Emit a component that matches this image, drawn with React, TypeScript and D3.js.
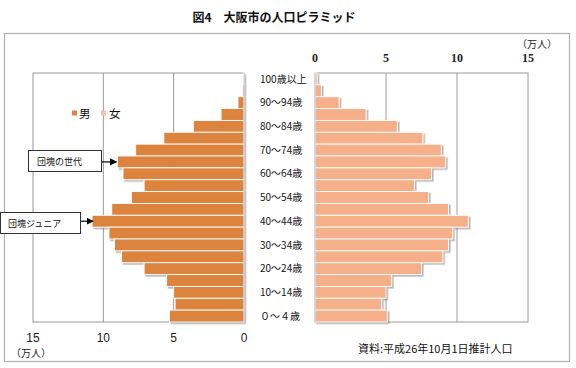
import React from "react";
import * as d3 from "d3";

const ageGroups = [
  "100+", "95-99", "90-94", "85-89", "80-84", "75-79", "70-74", "65-69", "60-64",
  "55-59", "50-54", "45-49", "40-44", "35-39", "30-34", "25-29", "20-24",
  "15-19", "10-14", "5-9", "0-4",
];
const ageLabels = [
  "100歳以上", "", "90～94歳", "", "80～84歳", "", "70～74歳", "", "60～64歳", "",
  "50～54歳", "", "40～44歳", "", "30～34歳", "", "20～24歳", "", "10～14歳", "", "０～４歳",
];
const maleValues = [
  0.05, 0.1, 0.43, 1.63, 3.6, 5.7, 7.7, 9.0, 8.6, 7.1, 8.0, 9.4, 10.8, 9.6, 9.2, 8.7, 7.1,
  5.5, 5.0, 4.9, 5.3,
];
const femaleValues = [
  0.15, 0.45, 1.7, 3.6, 5.8, 7.6, 8.9, 9.2, 8.2, 7.0, 8.0, 9.4, 10.8, 9.7, 9.4, 9.0, 7.5,
  5.4, 5.0, 4.7, 5.1,
];
const ticks = [0, 5, 10, 15];

const MALE = "#DC843D";
const FEMALE = "#F5B08A";
const GRID = "#9a9a9a";
const JP = "'Noto Sans CJK JP', 'Noto Sans', sans-serif";

export default function App() {
  const top = 73;
  const bottom = 322;
  const y = d3.scaleBand<string>().domain(ageGroups).range([top, bottom]).paddingInner(0);
  const xL = d3.scaleLinear().domain([0, 15]).range([244, 33]);
  const xR = d3.scaleLinear().domain([0, 15]).range([315, 528]);
  const bh = y.bandwidth();

  return (
    <svg width={576} height={368} style={{ position: "absolute", left: 0, top: 0, background: "#fff" }}>
      <defs>
        <filter id="sh" x="-10%" y="-30%" width="130%" height="180%">
          <feDropShadow dx="1.6" dy="1.6" stdDeviation="0.7" floodColor="#777" floodOpacity="0.55" />
        </filter>
        <marker id="arr" viewBox="0 0 10 10" refX="9" refY="5" markerWidth="6" markerHeight="6" orient="auto">
          <path d="M0,0 L10,5 L0,10 z" fill="#000" />
        </marker>
      </defs>

      {/* title */}
      <text x={274} y={22} textAnchor="middle" fontFamily={JP} fontWeight="bold" fontSize={12} fill="#111">
        図4　大阪市の人口ピラミッド
      </text>

      {/* outer frame */}
      <rect x={4.5} y={33.5} width={565} height={328} fill="none" stroke="#b0b0b0" strokeWidth={1.2} />

      {/* left panel */}
      <rect x={xL(15)} y={top} width={xL(0) - xL(15)} height={bottom - top} fill="#fff" stroke={GRID} strokeWidth={1} />
      {ticks.slice(1, 3).map((t) => (
        <line key={"gl" + t} x1={xL(t)} x2={xL(t)} y1={top} y2={bottom} stroke={GRID} strokeWidth={1} />
      ))}
      {/* right panel */}
      <rect x={xR(0)} y={top} width={xR(15) - xR(0)} height={bottom - top} fill="#fff" stroke={GRID} strokeWidth={1} />
      {ticks.slice(1, 3).map((t) => (
        <line key={"gr" + t} x1={xR(t)} x2={xR(t)} y1={top} y2={bottom} stroke={GRID} strokeWidth={1} />
      ))}

      {/* male bars */}
      <g filter="url(#sh)">
        {ageGroups.map((a, i) => (
          <rect key={"m" + a} x={xL(maleValues[i])} y={y(a)!} width={xL(0) - xL(maleValues[i])} height={bh}
            fill={MALE} stroke="#fff" strokeWidth={0.9} />
        ))}
      </g>
      {/* female bars */}
      <g filter="url(#sh)">
        {ageGroups.map((a, i) => (
          <rect key={"f" + a} x={xR(0)} y={y(a)!} width={xR(femaleValues[i]) - xR(0)} height={bh}
            fill={FEMALE} stroke="#fff" strokeWidth={0.9} />
        ))}
      </g>
      <line x1={xR(0)} x2={xR(0)} y1={top} y2={bottom} stroke="#c8c8d8" strokeWidth={1} />
      <line x1={xL(0)} x2={xL(0)} y1={top} y2={bottom} stroke="#c8c8d8" strokeWidth={1} />

      {/* age labels */}
      {ageGroups.map((a, i) =>
        ageLabels[i] ? (
          <text key={"l" + a} x={260} y={y(a)! + bh / 2 + 3.6} fontFamily={JP} fontSize={10} fill="#111">
            {ageLabels[i]}
          </text>
        ) : null
      )}

      {/* top axis labels (right) */}
      {ticks.map((t) => (
        <text key={"tt" + t} x={xR(t)} y={62} textAnchor="middle" fontFamily="'Liberation Serif', serif"
          fontWeight="bold" fontSize={12} fill="#222">
          {t}
        </text>
      ))}
      <text x={537} y={48} textAnchor="middle" fontFamily={JP} fontSize={10} fill="#222">（万人）</text>

      {/* bottom axis labels (left) */}
      {ticks.map((t) => (
        <text key={"bt" + t} x={xL(t)} y={342} textAnchor="middle" fontFamily="'Liberation Sans', Arial, sans-serif"
          fontSize={12} fill="#222">
          {t}
        </text>
      ))}
      <text x={31} y={357} textAnchor="middle" fontFamily={JP} fontSize={10} fill="#222">（万人）</text>

      {/* source */}
      <text x={358} y={353} fontFamily={JP} fontSize={11} fill="#111">資料:平成26年10月1日推計人口</text>

      {/* legend */}
      <rect x={72} y={110.5} width={5} height={5} fill={MALE} />
      <text x={79} y={117.5} fontFamily={JP} fontSize={11.5} fill="#111">男</text>
      <rect x={101} y={110.5} width={5} height={5} fill="#F4C2A6" />
      <text x={109} y={117.5} fontFamily={JP} fontSize={11.5} fill="#111">女</text>

      {/* annotations */}
      <rect x={28.5} y={150.5} width={73} height={21} fill="#fff" stroke="#333" strokeWidth={1} />
      <text x={37} y={164.5} fontFamily={JP} fontSize={9} fill="#111">団塊の世代</text>
      <line x1={102} x2={xL(maleValues[7]) - 1} y1={y("65-69")! + bh / 2} y2={y("65-69")! + bh / 2}
        stroke="#000" strokeWidth={1.2} markerEnd="url(#arr)" />

      <rect x={0.5} y={212.5} width={80} height={21} fill="#fff" stroke="#333" strokeWidth={1} />
      <text x={8} y={226.5} fontFamily={JP} fontSize={9} fill="#111">団塊ジュニア</text>
      <line x1={81} x2={xL(maleValues[12]) + 1} y1={y("40-44")! + bh / 2} y2={y("40-44")! + bh / 2}
        stroke="#000" strokeWidth={1.2} markerEnd="url(#arr)" />
    </svg>
  );
}
